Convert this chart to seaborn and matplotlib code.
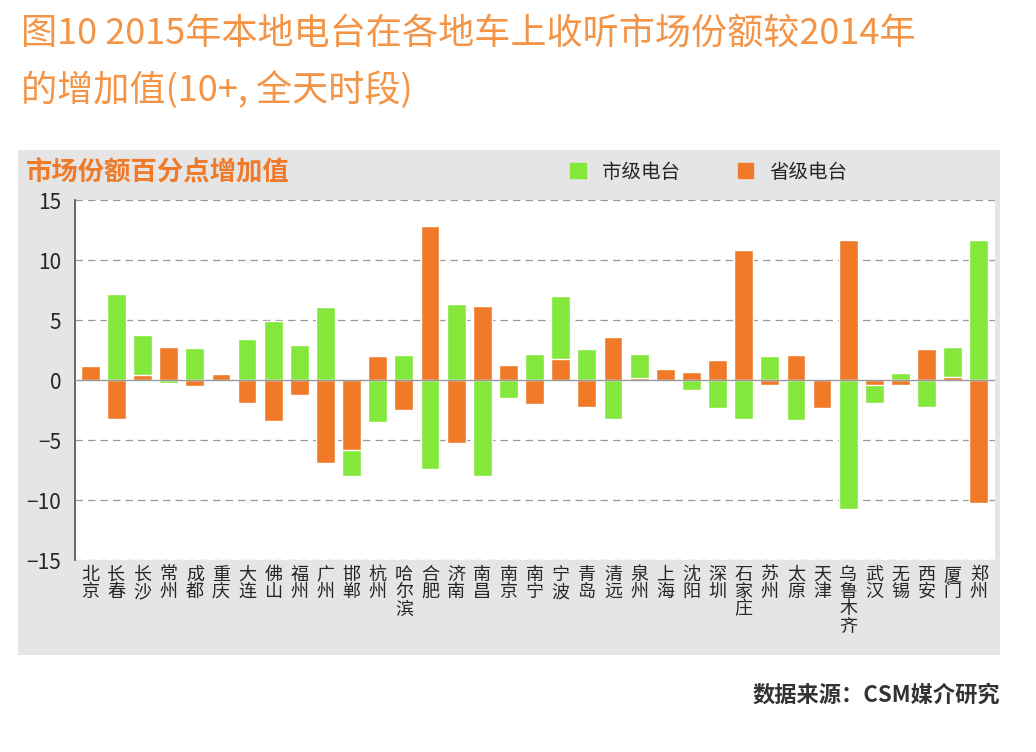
import matplotlib
matplotlib.use("Agg")
import matplotlib.pyplot as plt
import seaborn as sns
from matplotlib.patches import Rectangle, Patch

sns.set_theme(style="white")
plt.rcParams['font.family'] = ['Noto Sans CJK SC', 'DejaVu Sans']

cities = ["北京", "长春", "长沙", "常州", "成都", "重庆", "大连", "佛山", "福州", "广州",
          "邯郸", "杭州", "哈尔滨", "合肥", "济南", "南昌", "南京", "南宁", "宁波", "青岛",
          "清远", "泉州", "上海", "沈阳", "深圳", "石家庄", "苏州", "太原", "天津", "乌鲁木齐",
          "武汉", "无锡", "西安", "厦门", "郑州"]
city_level = [0.0, 7.2, 3.8, -0.2, 2.7, 0.0, 3.4, 4.9, 2.9, 6.1,
              -8.0, -3.5, 2.1, -7.4, 6.3, -8.0, -1.5, 2.2, 7.0, 2.6,
              -3.2, 2.2, 0.0, -0.8, -2.3, -3.2, 2.0, -3.3, 0.0, -10.7,
              -1.9, 0.6, -2.2, 2.8, 11.7]
prov_level = [1.2, -3.2, 0.4, 2.8, -0.5, 0.5, -1.9, -3.4, -1.2, -6.9,
              -5.8, 2.0, -2.5, 12.8, -5.2, 6.2, 1.3, -2.0, 1.8, -2.2,
              3.6, 0.2, 0.9, 0.7, 1.7, 10.8, -0.4, 2.1, -2.3, 11.7,
              -0.4, -0.4, 2.6, 0.3, -10.2]

green = "#84e83c"
orange = "#f07a28"
title_col = "#f39446"

fig = plt.figure(figsize=(10.36, 7.52), dpi=100)
fig.patches.append(Rectangle((0.017, 0.129), 0.948, 0.671, transform=fig.transFigure,
                             facecolor="#e5e5e5", edgecolor="none", zorder=-5))
ax = fig.add_axes([0.072, 0.255, 0.888, 0.479])
ax.set_zorder(2)
ax.set_facecolor("white")

sns.barplot(x=cities, y=city_level, color=green, width=0.72, saturation=1, ax=ax, zorder=2)
sns.barplot(x=cities, y=prov_level, color=orange, width=0.72, saturation=1, ax=ax, zorder=3)

ax.set_ylim(-15, 15)
ax.set_yticks([-15, -10, -5, 0, 5, 10, 15])
ax.set_yticklabels(["−15", "−10", "−5", "0", "5", "10", "15"], fontsize=15)
for y in [-15, -10, -5, 5, 10, 15]:
    ax.axhline(y, color="#999999", ls=(0, (6, 4)), lw=0.9, zorder=1)
ax.axhline(0, color="#999999", lw=1, zorder=4)
ax.set_xticks(range(len(cities)))
ax.set_xticklabels(["\n".join(c) for c in cities], fontsize=13, linespacing=0.95, va="top")
ax.tick_params(axis="x", length=0, pad=4)
ax.set_xlim(-0.6, len(cities) - 0.4)
for s in ["top", "right"]:
    ax.spines[s].set_visible(False)
ax.spines["left"].set_color("#555555")
ax.spines["bottom"].set_visible(False)

fig.text(0.02, 0.955, "图10 2015年本地电台在各地车上收听市场份额较2014年", fontsize=26,
         color=title_col, va="center")
fig.text(0.02, 0.88, "的增加值(10+, 全天时段)", fontsize=26, color=title_col, va="center")
fig.text(0.025, 0.77, "市场份额百分点增加值", fontsize=19, color=orange, weight="bold", va="center")
ax.legend(handles=[Patch(color=green, label="市级电台"), Patch(color=orange, label="省级电台")],
          loc="lower left", bbox_to_anchor=(0.52, 1.0), ncol=2, frameon=False,
          fontsize=14, handlelength=0.8, handleheight=0.8, columnspacing=3)
fig.text(0.965, 0.075, "数据来源：CSM媒介研究", fontsize=16, weight="bold", color="#333333",
         ha="right", va="center")

fig.savefig("out.png", dpi=100)
